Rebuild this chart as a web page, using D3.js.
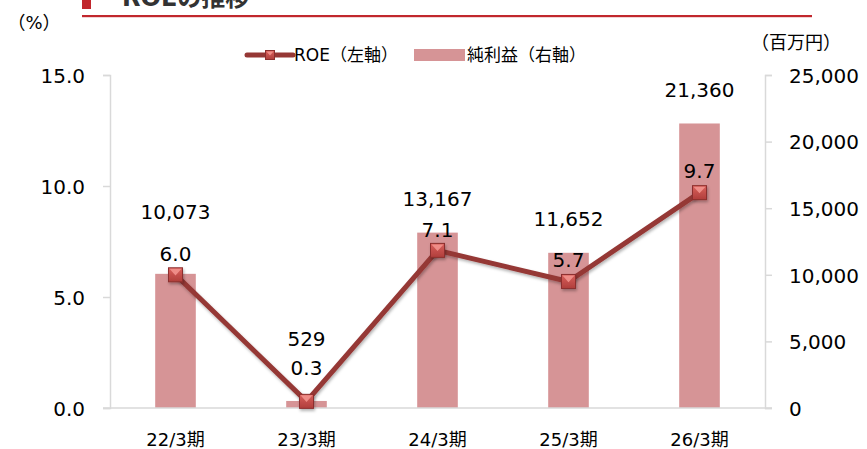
<!DOCTYPE html>
<html>
<head>
<meta charset="utf-8">
<script src="https://cdn.jsdelivr.net/npm/d3@7"></script>
<style>
  html, body { margin: 0; padding: 0; background: #fff; }
  svg { display: block; }
  text { font-family: Verdana, "DejaVu Sans", "Noto Sans CJK JP", sans-serif; fill: #000; }
</style>
</head>
<body>
<svg id="chart" width="867" height="449"></svg>
<script>
// Fiscal periods and values
const categories = ["22/3期", "23/3期", "24/3期", "25/3期", "26/3期"];
const roe = [6.0, 0.3, 7.1, 5.7, 9.7];               // ROE (%), left axis
const netIncome = [10073, 529, 13167, 11652, 21360];  // 純利益 (百万円), right axis
const leftTicks = [0, 5, 10, 15];
const rightTicks = [0, 5000, 10000, 15000, 20000, 25000];

// Vertical nudges for the value labels (px, relative to the mark they describe)
const roeLabelShift = [-21, -34, -21, -22, -22];
const niLabelShift = [-62, -62, -34, -34, -34];

const svg = d3.select("#chart");
const plotLeft = 110, plotRight = 765, plotTop = 75, plotBottom = 408;

const x = d3.scaleBand().domain(categories).range([plotLeft, plotRight])
  .paddingInner(0.69).paddingOuter(0.345);
const yL = d3.scaleLinear().domain([0, 15]).range([plotBottom, plotTop]);
const yR = d3.scaleLinear().domain([0, 25000]).range([plotBottom, plotTop]);
const cx = c => x(c) + x.bandwidth() / 2;

const axisColor = "#D9D9D9";
const barColor = "#D69496";
const lineColor = "#953735";

// Header: red marker block, title and rule
svg.append("rect").attr("x", 82).attr("y", -4).attr("width", 9).attr("height", 13).attr("fill", "#C1272D");
svg.append("text").attr("x", 122).attr("y", 6)
  .attr("font-size", 24).attr("font-weight", "bold")
  .style("fill", "#333").text("ROEの推移");
svg.append("rect").attr("x", 82).attr("y", 15).attr("width", 730).attr("height", 2.2).attr("fill", "#C1272D");

// Unit labels
svg.append("text").attr("x", 34).attr("y", 29).attr("text-anchor", "middle")
  .attr("font-size", 18).text("（%）");
svg.append("text").attr("x", 796).attr("y", 49).attr("text-anchor", "middle")
  .attr("font-size", 18).text("（百万円）");

// Defs: marker gradient and soft shadow
const defs = svg.append("defs");
const grad = defs.append("linearGradient").attr("id", "mk").attr("x1", 0).attr("y1", 0).attr("x2", 0).attr("y2", 1);
grad.append("stop").attr("offset", "0%").attr("stop-color", "#D9605C");
grad.append("stop").attr("offset", "100%").attr("stop-color", "#B03E3B");
const sh = defs.append("filter").attr("id", "sh").attr("x", "-50%").attr("y", "-50%").attr("width", "200%").attr("height", "200%");
sh.append("feDropShadow").attr("dx", 1).attr("dy", 2).attr("stdDeviation", 1.5).attr("flood-color", "#000").attr("flood-opacity", 0.3);

// Bars (right axis)
svg.append("g").selectAll("rect").data(categories).join("rect")
  .attr("x", c => x(c))
  .attr("width", x.bandwidth())
  .attr("y", (c, i) => yR(netIncome[i]))
  .attr("height", (c, i) => yR(0) - yR(netIncome[i]))
  .attr("fill", barColor);

// Axes
const axisL = svg.append("g").attr("transform", `translate(${plotLeft},0)`)
  .call(d3.axisLeft(yL).tickValues(leftTicks).tickSize(7).tickFormat(d3.format(".1f")));
const axisR = svg.append("g").attr("transform", `translate(${plotRight},0)`)
  .call(d3.axisRight(yR).tickValues(rightTicks).tickSize(7).tickFormat(d3.format(",")));
[axisL, axisR].forEach(g => {
  g.select(".domain").attr("stroke", axisColor).attr("stroke-width", 1.5);
  g.selectAll(".tick line").attr("stroke", axisColor).attr("stroke-width", 1.5);
  g.selectAll(".tick text").attr("font-size", 20).attr("fill", "#000")
    .attr("font-family", "Verdana, 'DejaVu Sans', sans-serif");
});
axisL.selectAll(".tick text").attr("x", -25).attr("dy", "0.36em");
axisR.selectAll(".tick text").attr("x", 24).attr("dy", "0.36em");

// Category axis
svg.append("line").attr("x1", plotLeft - 7).attr("x2", plotRight + 7)
  .attr("y1", plotBottom).attr("y2", plotBottom)
  .attr("stroke", axisColor).attr("stroke-width", 1.5);
svg.append("g").selectAll("text").data(categories).join("text")
  .attr("x", c => cx(c)).attr("y", 446)
  .attr("text-anchor", "middle").attr("font-size", 18).text(c => c);

// ROE line (left axis)
const line = d3.line().x((d, i) => cx(categories[i])).y(d => yL(d));
svg.append("path").datum(roe)
  .attr("d", line).attr("fill", "none")
  .attr("stroke", lineColor).attr("stroke-width", 5).attr("stroke-linejoin", "round")
  .attr("filter", "url(#sh)");

// Bevelled square markers
function drawMarker(g, s) {
  g.append("rect").attr("x", -s / 2).attr("y", -s / 2).attr("width", s).attr("height", s)
    .attr("fill", "url(#mk)").attr("stroke", "#8C2F2D").attr("stroke-width", 1);
  g.append("path")
    .attr("d", `M${-s / 2 + 1},${-s / 2 + 1}L${s / 2 - 1},${-s / 2 + 1}L0,${s * 0.05}Z`)
    .attr("fill", "#F2928D").attr("opacity", 0.9);
}
svg.append("g").selectAll("g").data(roe).join("g")
  .attr("transform", (d, i) => `translate(${cx(categories[i])},${yL(d)})`)
  .attr("filter", "url(#sh)")
  .each(function () { drawMarker(d3.select(this), 14); });

// Value labels
svg.append("g").selectAll("text").data(roe).join("text")
  .attr("x", (d, i) => cx(categories[i]))
  .attr("y", (d, i) => yL(d) + roeLabelShift[i])
  .attr("dy", "0.36em").attr("text-anchor", "middle").attr("font-size", 20)
  .text(d => d3.format(".1f")(d));
svg.append("g").selectAll("text").data(netIncome).join("text")
  .attr("x", (d, i) => cx(categories[i]))
  .attr("y", (d, i) => yR(d) + niLabelShift[i])
  .attr("dy", "0.36em").attr("text-anchor", "middle").attr("font-size", 20)
  .text(d => d3.format(",")(d));

// Legend
const lg = svg.append("g");
lg.append("line").attr("x1", 247).attr("x2", 293).attr("y1", 55).attr("y2", 55)
  .attr("stroke", lineColor).attr("stroke-width", 5).attr("stroke-linecap", "round");
const lm = lg.append("g").attr("transform", "translate(270,55)");
drawMarker(lm, 9);
lg.append("text").attr("x", 294).attr("y", 61).attr("font-size", 17).text("ROE（左軸）");
lg.append("rect").attr("x", 414).attr("y", 49).attr("width", 51).attr("height", 12).attr("fill", barColor);
lg.append("text").attr("x", 467).attr("y", 61).attr("font-size", 17).text("純利益（右軸）");
</script>
</body>
</html>
